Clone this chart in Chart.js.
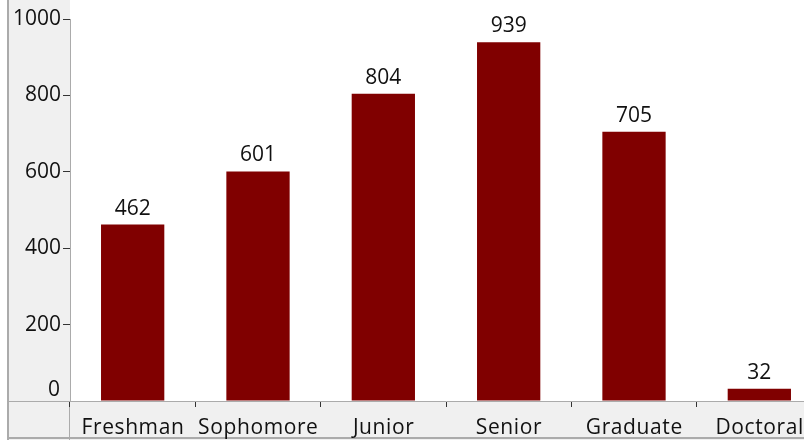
<!DOCTYPE html>
<html>
<head>
<meta charset="utf-8">
<script src="https://cdn.jsdelivr.net/npm/chart.js@4"></script>
<style>
  html, body { margin: 0; padding: 0; background: #fff; overflow: hidden; }
  #wrap { width: 804px; height: 440px; overflow: hidden; position: relative; }
  #wrap canvas { display: block; }
</style>
</head>
<body>
<div id="wrap"><canvas id="c" width="822" height="440"></canvas></div>
<script>
// student counts by class level
var levels = ['Freshman', 'Sophomore', 'Junior', 'Senior', 'Graduate', 'Doctoral'];
var counts = [462, 601, 804, 939, 705, 32];
var yTicks = [0, 200, 400, 600, 800, 1000];

var FONT = '"Open Sans", "Noto Sans", sans-serif';
var PANEL = '#f0f0f0';
var EDGE = '#ababab';
var TEXT = '#111';

var panels = {
  id: 'panels',
  beforeDraw: function(chart) {
    var ctx = chart.ctx, a = chart.chartArea;
    var W = chart.width, H = chart.height;
    ctx.save();
    ctx.fillStyle = PANEL;
    ctx.fillRect(7, 0, a.left - 7, a.bottom);
    ctx.fillRect(7, a.bottom, W - 7, H - a.bottom);
    ctx.strokeStyle = EDGE;
    ctx.lineWidth = 2;
    ctx.beginPath();
    ctx.moveTo(8, 0); ctx.lineTo(8, H);
    ctx.moveTo(7, H - 2); ctx.lineTo(W, H - 2);
    ctx.stroke();
    ctx.lineWidth = 1;
    ctx.beginPath();
    ctx.moveTo(a.left - 0.5, a.bottom); ctx.lineTo(a.left - 0.5, H);
    ctx.moveTo(7, a.bottom + 0.5); ctx.lineTo(a.left, a.bottom + 0.5);
    ctx.stroke();
    ctx.restore();
  },
  afterDraw: function(chart) {
    var ctx = chart.ctx, xs = chart.scales.x;
    ctx.save();
    ctx.fillStyle = TEXT;
    ctx.font = '21px ' + FONT;
    // zero label sits just above the baseline
    ctx.textAlign = 'right';
    ctx.textBaseline = 'alphabetic';
    ctx.fillText('0', 60, 396);
    // category labels, slightly spaced out
    ctx.textAlign = 'center';
    ctx.letterSpacing = '0.6px';
    levels.forEach(function(lab, i) {
      ctx.fillText(lab, xs.getPixelForTick(i) + 0.3, 434);
    });
    ctx.restore();
  }
};

var valueLabels = {
  id: 'valueLabels',
  afterDatasetsDraw: function(chart) {
    var ctx = chart.ctx;
    var meta = chart.getDatasetMeta(0);
    ctx.save();
    ctx.font = '21px ' + FONT;
    ctx.fillStyle = TEXT;
    ctx.textAlign = 'center';
    ctx.textBaseline = 'alphabetic';
    meta.data.forEach(function(bar, i) {
      ctx.fillText(String(counts[i]), bar.x, bar.y - 10);
    });
    ctx.restore();
  }
};

new Chart(document.getElementById('c'), {
  type: 'bar',
  data: {
    labels: levels,
    datasets: [{
      data: counts,
      backgroundColor: '#800000',
      borderWidth: 0,
      categoryPercentage: 1.0,
      barPercentage: 0.505
    }]
  },
  options: {
    responsive: false,
    animation: false,
    events: [],
    layout: { padding: { top: 19, right: 0, left: 0, bottom: 0 } },
    plugins: { legend: { display: false }, tooltip: { enabled: false } },
    scales: {
      x: {
        afterFit: function(s) { s.height = 39; },
        grid: { display: true, drawOnChartArea: false, drawTicks: true, tickLength: 6, color: '#333', offset: true },
        border: { display: true, color: EDGE, width: 1 },
        ticks: { display: false }
      },
      y: {
        min: 0,
        max: 1000,
        afterFit: function(s) { s.width = 70; },
        afterBuildTicks: function(s) { s.ticks = yTicks.map(function(v) { return { value: v }; }); },
        grid: {
          display: true, drawOnChartArea: false, drawTicks: true, tickLength: 7,
          color: function(c) { return c.tick && c.tick.value === 0 ? 'rgba(0,0,0,0)' : '#333'; }
        },
        border: { display: true, color: EDGE, width: 1 },
        ticks: {
          color: TEXT, font: { family: FONT, size: 21 }, padding: 2,
          callback: function(v) { return v === 0 ? '' : String(v); }
        }
      }
    }
  },
  plugins: [panels, valueLabels]
});
</script>
</body>
</html>
